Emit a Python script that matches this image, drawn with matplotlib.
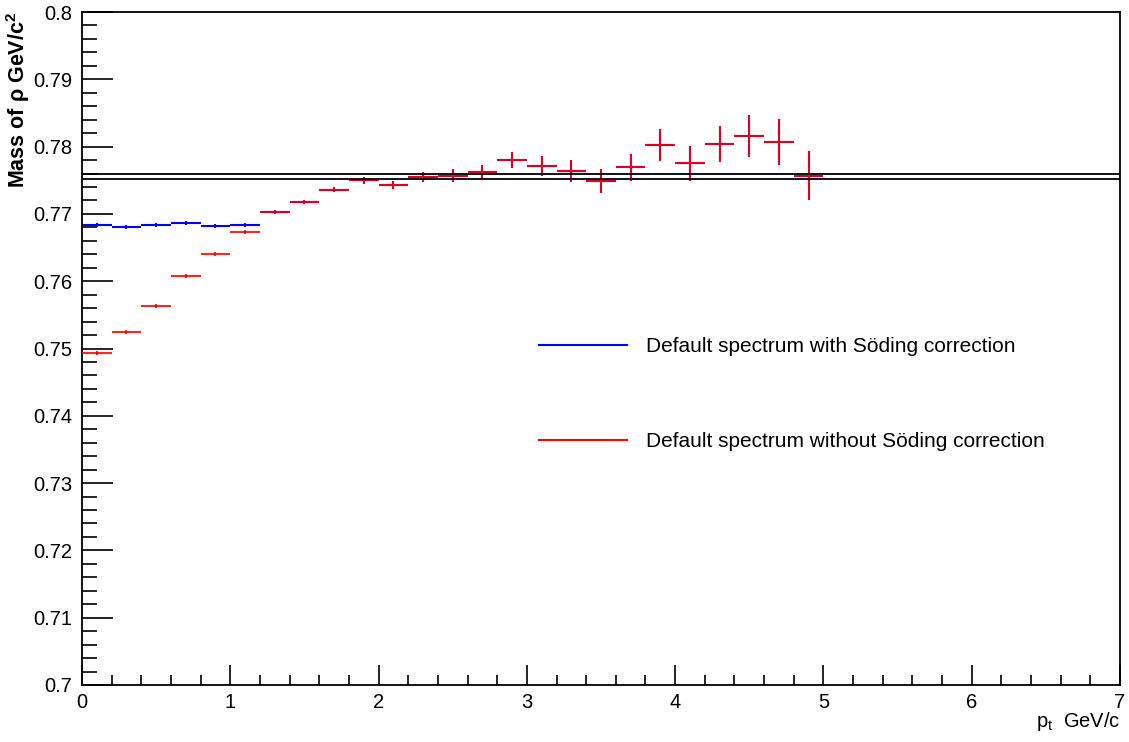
import matplotlib
matplotlib.use("Agg")
import matplotlib.pyplot as plt
import numpy as np
from matplotlib.lines import Line2D
from matplotlib.ticker import MultipleLocator, FuncFormatter

# ---------------------------------------------------------------- data
# bin centres (GeV/c), bin half width 0.1
pt = [0.1, 0.3, 0.5, 0.7, 0.9, 1.1, 1.3, 1.5, 1.7, 1.9, 2.1, 2.3, 2.5,
      2.7, 2.9, 3.1, 3.3, 3.5, 3.7, 3.9, 4.1, 4.3, 4.5, 4.7, 4.9]

# without Soding correction
mass_raw = [0.7494, 0.7525, 0.7563, 0.7608, 0.7640, 0.7673, 0.7703, 0.7718,
            0.7736, 0.7750, 0.7743, 0.7755, 0.7757, 0.7762, 0.7780, 0.7771,
            0.7764, 0.7749, 0.7769, 0.7802, 0.7775, 0.7804, 0.7816, 0.7807,
            0.7757]
err_raw = [0.0003, 0.0003, 0.0003, 0.0003, 0.0003, 0.0003, 0.0003, 0.0003,
           0.0004, 0.0005, 0.0006, 0.0008, 0.0009, 0.0010, 0.0012, 0.0015,
           0.0016, 0.0018, 0.0020, 0.0024, 0.0026, 0.0027, 0.0031, 0.0034,
           0.0036]

# with Soding correction (identical above 1.2 GeV/c)
mass_sod = [0.7684, 0.7681, 0.7684, 0.7686, 0.7682, 0.7684] + mass_raw[6:]
err_sod = [0.0003, 0.0003, 0.0003, 0.0003, 0.0003, 0.0003] + err_raw[6:]

# PDG band edges
pdg_lines = [0.7759, 0.7752]

leg_labels = ["Default spectrum with Söding correction",
              "Default spectrum without Söding correction"]

# ---------------------------------------------------------------- figure
plt.rcParams["font.family"] = ["Liberation Sans"]
W, H = 1129, 742
fig = plt.figure(figsize=(W / 100, H / 100), dpi=100)
ax = fig.add_axes([82 / W, 1 - 685 / H, (1120 - 82) / W, (685 - 12) / H])

BLUE, RED = "#0000ff", "#ff0000"
ax.errorbar(pt, mass_sod, xerr=0.1, yerr=err_sod, fmt="none",
            ecolor=BLUE, elinewidth=1.5, capsize=0, zorder=2)
ax.errorbar(pt, mass_raw, xerr=0.1, yerr=err_raw, fmt="none",
            ecolor=RED, elinewidth=1.5, capsize=0, alpha=0.85, zorder=3)

for m in pdg_lines:
    ax.axhline(m, color="black", lw=1.3, zorder=4)

ax.set_xlim(0, 7)
ax.set_ylim(0.7, 0.8)
ax.xaxis.set_major_locator(MultipleLocator(1))
ax.xaxis.set_minor_locator(MultipleLocator(0.2))
ax.yaxis.set_major_locator(MultipleLocator(0.01))
ax.yaxis.set_minor_locator(MultipleLocator(0.002))
ax.yaxis.set_major_formatter(FuncFormatter(lambda v, p: f"{v:g}"))
ax.xaxis.set_major_formatter(FuncFormatter(lambda v, p: f"{v:g}"))

ax.tick_params(axis="both", which="both", direction="in", top=False,
               right=False, width=1.2, labelsize=14.5, colors="black")
ax.tick_params(axis="y", which="major", length=22, pad=7)
ax.tick_params(axis="y", which="minor", length=11)
ax.tick_params(axis="x", which="major", length=14.5, pad=6)
ax.tick_params(axis="x", which="minor", length=7.2)
for s in ax.spines.values():
    s.set_linewidth(1.3)

handles = [Line2D([], [], color=BLUE, lw=1.5),
           Line2D([], [], color=RED, lw=1.5)]
ax.legend(handles, leg_labels, loc="upper left", frameon=False,
          fontsize=15, handlelength=4.2, handletextpad=0.95,
          labelspacing=3.65, borderpad=0, borderaxespad=0,
          bbox_to_anchor=(539 / W, 1 - 337 / H), bbox_transform=fig.transFigure)

fig.text(18 / W, 1 - 12 / H, "Mass of ρ GeV/c$\\mathregular{^2}$",
         rotation=90, ha="center", va="top", fontsize=15.5, fontweight="bold")
fig.text(1120 / W, 1 - 727 / H, "p$\\mathregular{_t}$  GeV/c",
         ha="right", va="baseline", fontsize=14.5)

fig.savefig("out.png", dpi=100)
